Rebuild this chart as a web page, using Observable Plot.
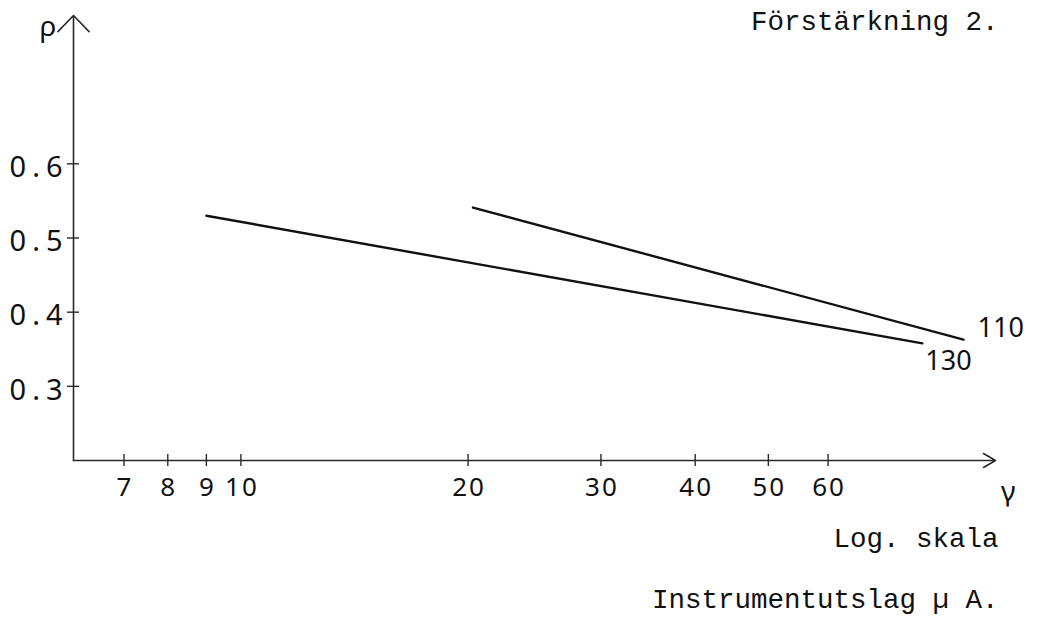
<!DOCTYPE html>
<html>
<head>
<meta charset="utf-8">
<script src="https://cdn.jsdelivr.net/npm/d3@7"></script>
<script src="https://cdn.jsdelivr.net/npm/@observablehq/plot@0.6"></script>
<style>
  html, body { margin: 0; padding: 0; background: #fff; }
  .hand text { letter-spacing: 6px; }
  .handx text { letter-spacing: 2px; }
</style>
</head>
<body>
<div id="chart"></div>
<script>
// Axis ranges and tick values (γ on a log scale, ρ linear)
const xDomain = [6, 100];
const yDomain = [0.2, 0.8];
const xTicks = [7, 8, 9, 10, 20, 30, 40, 50, 60];
const yTicks = [0.3, 0.4, 0.5, 0.6];

// The two measured curves, named by their setting
const seriesNames = ["130", "110"];
const gamma130 = [9, 80];
const rho130 = [0.53, 0.358];
const gamma110 = [20.3, 90.7];
const rho110 = [0.541, 0.363];

const title = "Förstärkning 2.";
const scaleNote = "Log. skala";
const unitNote = "Instrumentutslag µ A.";

const rows = [
  ...gamma130.map((g, i) => ({series: seriesNames[0], gamma: g, rho: rho130[i]})),
  ...gamma110.map((g, i) => ({series: seriesNames[1], gamma: g, rho: rho110[i]}))
];

const W = 1039, H = 620;
const mL = 73, mR = 44, mT = 15, mB = 160;
const hand = "'Noto Sans', 'Open Sans', sans-serif";
const mono = "'Liberation Mono', 'Courier New', monospace";
const ink = "#111";
const axisInk = "#2a2a2a";

const chart = Plot.plot({
  width: W,
  height: H,
  marginLeft: mL,
  marginRight: mR,
  marginTop: mT,
  marginBottom: mB,
  x: {type: "log", domain: xDomain, axis: null},
  y: {domain: yDomain, axis: null},
  style: {background: "#fff", color: ink},
  marks: [
    // axes drawn as arrows
    Plot.arrow([0], {x1: xDomain[0], y1: yDomain[0], x2: xDomain[0], y2: yDomain[1],
      stroke: axisInk, strokeWidth: 1.6, headLength: 21, headAngle: 88}),
    Plot.arrow([0], {x1: xDomain[0], y1: yDomain[0], x2: xDomain[1], y2: yDomain[0],
      stroke: axisInk, strokeWidth: 1.6, headLength: 13, headAngle: 60}),
    // crossing ticks
    Plot.ruleX(xTicks, {x: d => d, y1: yDomain[0], y2: yDomain[0], insetTop: -6, insetBottom: -6,
      stroke: axisInk, strokeWidth: 1.4}),
    Plot.ruleY(yTicks, {y: d => d, x1: xDomain[0], x2: xDomain[0], insetLeft: -6, insetRight: -6,
      stroke: axisInk, strokeWidth: 1.4}),
    // tick labels
    Plot.text(xTicks, {x: d => d, y: yDomain[0], text: d => String(d), dy: 27, dx: 1,
      fontSize: 26, fontFamily: hand, fill: ink, lineAnchor: "middle", className: "handx"}),
    Plot.text(yTicks, {x: xDomain[0], y: d => d, text: d => d.toFixed(1), dx: -5, dy: 4,
      textAnchor: "end", fontSize: 29, fontFamily: hand, fill: ink, lineAnchor: "middle", className: "hand"}),
    // axis symbols
    Plot.text(["ρ"], {frameAnchor: "top-left", dx: -34, dy: 12, fontSize: 28, fontFamily: hand,
      fill: ink, lineAnchor: "middle"}),
    Plot.text(["γ"], {frameAnchor: "bottom-right", dx: 20, dy: 32, fontSize: 28, fontFamily: hand,
      fill: ink, lineAnchor: "middle"}),
    // curves
    Plot.line(rows, {x: "gamma", y: "rho", z: "series", stroke: ink, strokeWidth: 2.4}),
    Plot.text(rows.filter(d => d.series === "110"), Plot.selectLast({x: "gamma", y: "rho", text: "series",
      textAnchor: "start", dx: 14, dy: -11, fontSize: 27, fontFamily: hand, fill: ink, lineAnchor: "middle"})),
    Plot.text(rows.filter(d => d.series === "130"), Plot.selectLast({x: "gamma", y: "rho", text: "series",
      textAnchor: "start", dx: 3, dy: 18, fontSize: 27, fontFamily: hand, fill: ink, lineAnchor: "middle"})),
    // typed notes
    Plot.text([title], {frameAnchor: "top-right", dx: 3, dy: 6, textAnchor: "end", fontSize: 27.5,
      fontFamily: mono, fill: ink, lineAnchor: "middle"}),
    Plot.text([scaleNote], {frameAnchor: "bottom-right", dx: 3, dy: 78, textAnchor: "end", fontSize: 27.5,
      fontFamily: mono, fill: ink, lineAnchor: "middle"}),
    Plot.text([unitNote], {frameAnchor: "bottom-right", dx: 3, dy: 139, textAnchor: "end", fontSize: 27.5,
      fontFamily: mono, fill: ink, lineAnchor: "middle"})
  ]
});

document.getElementById("chart").append(chart);
</script>
</body>
</html>
